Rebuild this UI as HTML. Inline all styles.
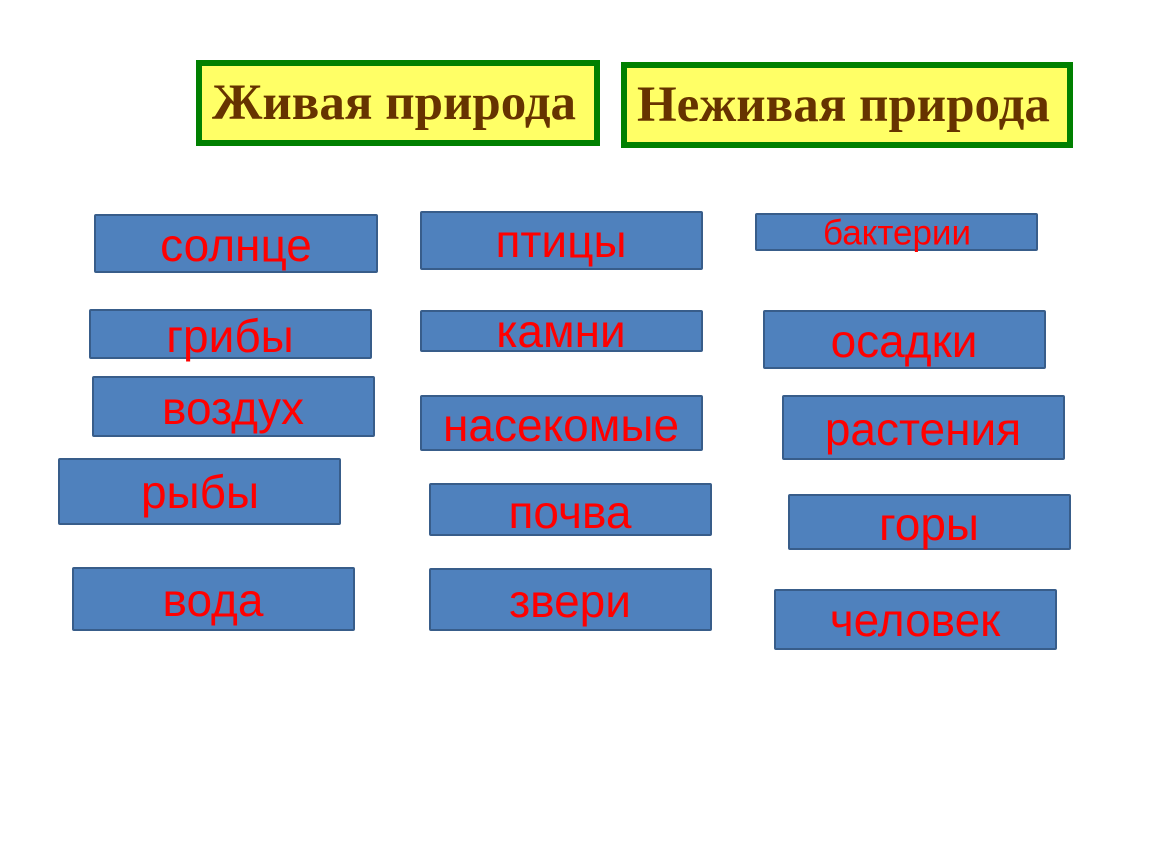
<!DOCTYPE html>
<html><head><meta charset="utf-8"><style>
body{margin:0;width:1150px;height:864px;background:#fff;position:relative;overflow:hidden}
.h{position:absolute;box-sizing:border-box;border:6px solid #008000;background:#ffff66;color:#663300;font:bold 51px "Liberation Serif","DejaVu Serif",serif;white-space:nowrap;line-height:74px}
.b{position:absolute;box-sizing:border-box;border:2.5px solid #385d8a;background:#4f81bd;border-radius:2px}
.t{position:absolute;color:#ff0000;font:46px "Liberation Sans","DejaVu Sans",sans-serif;white-space:nowrap;transform:translate(-50%,-50%);line-height:1}
</style></head><body>
<div class="h" style="left:196px;top:60px;width:404px;height:86px;padding-left:10px">Живая природа</div>
<div class="h" style="left:621px;top:62px;width:452px;height:86px;padding-left:10px">Неживая природа</div>

<div class="b" style="left:94px;top:214px;width:284px;height:59px"></div><div class="t" style="left:236px;top:245px">солнце</div>
<div class="b" style="left:420px;top:211px;width:283px;height:59px"></div><div class="t" style="left:561px;top:241px">птицы</div>
<div class="b" style="left:755px;top:213px;width:283px;height:38px"></div><div class="t" style="left:897px;top:233px;font-size:35px">бактерии</div>
<div class="b" style="left:89px;top:309px;width:283px;height:50px"></div><div class="t" style="left:230px;top:336px">грибы</div>
<div class="b" style="left:420px;top:310px;width:283px;height:42px"></div><div class="t" style="left:561px;top:331px">камни</div>
<div class="b" style="left:763px;top:310px;width:283px;height:59px"></div><div class="t" style="left:904px;top:341px">осадки</div>
<div class="b" style="left:92px;top:376px;width:283px;height:61px"></div><div class="t" style="left:233px;top:408px">воздух</div>
<div class="b" style="left:420px;top:395px;width:283px;height:56px"></div><div class="t" style="left:561px;top:425px">насекомые</div>
<div class="b" style="left:782px;top:395px;width:283px;height:65px"></div><div class="t" style="left:923px;top:429px">растения</div>
<div class="b" style="left:58px;top:458px;width:283px;height:67px"></div><div class="t" style="left:200px;top:492px">рыбы</div>
<div class="b" style="left:429px;top:483px;width:283px;height:53px"></div><div class="t" style="left:570px;top:512px">почва</div>
<div class="b" style="left:788px;top:494px;width:283px;height:56px"></div><div class="t" style="left:929px;top:524px">горы</div>
<div class="b" style="left:72px;top:567px;width:283px;height:64px"></div><div class="t" style="left:213px;top:600px">вода</div>
<div class="b" style="left:429px;top:568px;width:283px;height:63px"></div><div class="t" style="left:570px;top:601px">звери</div>
<div class="b" style="left:774px;top:589px;width:283px;height:61px"></div><div class="t" style="left:915px;top:620px">человек</div>
</body></html>
